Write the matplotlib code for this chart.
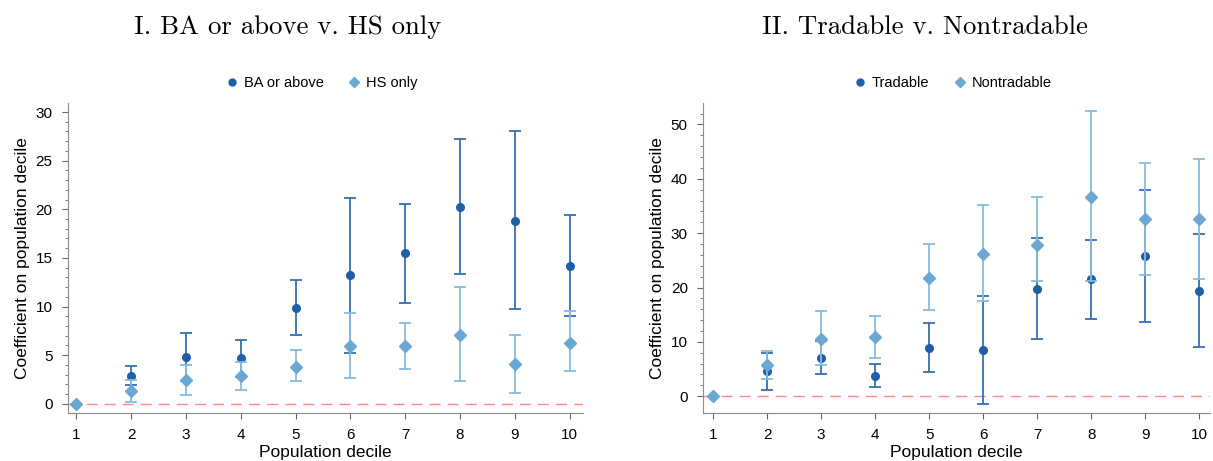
import numpy as np
import matplotlib
matplotlib.use("Agg")
import matplotlib.pyplot as plt
from matplotlib.lines import Line2D

plt.rcParams['font.family'] = ['Liberation Sans', 'DejaVu Sans']

deciles = np.arange(1, 11)

# panel I
ba_coef = [0, 2.9, 4.8, 4.7, 9.9, 13.2, 15.5, 20.2, 18.8, 14.2]
ba_lo = [0, 1.9, 2.3, 2.8, 7.1, 5.2, 10.4, 13.3, 9.7, 9.0]
ba_hi = [0, 3.9, 7.3, 6.6, 12.7, 21.2, 20.5, 27.2, 28.0, 19.4]
hs_coef = [0, 1.3, 2.4, 2.85, 3.8, 5.9, 5.9, 7.1, 4.1, 6.3]
hs_lo = [0, 0.2, 0.9, 1.4, 2.3, 2.7, 3.6, 2.3, 1.1, 3.4]
hs_hi = [0, 2.4, 4.0, 4.3, 5.5, 9.3, 8.3, 12.0, 7.1, 9.5]

# panel II
tr_coef = [0, 4.6, 7.1, 3.8, 8.9, 8.5, 19.75, 21.5, 25.8, 19.3]
tr_lo = [0, 1.1, 4.0, 1.7, 4.4, -1.5, 10.55, 14.2, 13.7, 9.0]
tr_hi = [0, 7.9, 10.2, 5.9, 13.4, 18.4, 29.2, 28.7, 38.0, 29.8]
nt_coef = [0, 5.8, 10.6, 10.9, 21.8, 26.2, 27.8, 36.7, 32.6, 32.6]
nt_lo = [0, 3.2, 5.7, 7.1, 15.8, 17.5, 21.2, 21.2, 22.3, 21.6]
nt_hi = [0, 8.3, 15.6, 14.8, 28.0, 35.1, 36.7, 52.4, 43.0, 43.6]

dark = "#1f5ea8"
dark_err = "#3470b3"
light = "#6aa8d3"
light_err = "#86bbe0"


def panel(ax, c1, lo1, hi1, lab1, c2, lo2, hi2, lab2, ylim, major, minor):
    c1, lo1, hi1 = map(np.array, (c1, lo1, hi1))
    c2, lo2, hi2 = map(np.array, (c2, lo2, hi2))
    ax.axhline(0, color="#ff8a8a", lw=1, ls=(0, (8, 5)), zorder=1)
    ax.errorbar(deciles, c1, yerr=[c1 - lo1, hi1 - c1], fmt="o", color=dark,
                ecolor=dark_err, ms=5.5, capsize=4, elinewidth=1.3, capthick=1.3,
                zorder=3)
    ax.errorbar(deciles, c2, yerr=[c2 - lo2, hi2 - c2], fmt="D", color=light,
                ecolor=light_err, ms=6.5, capsize=4, elinewidth=1.3, capthick=1.3,
                zorder=4)
    ax.set_ylim(*ylim)
    ax.set_yticks(np.arange(0, ylim[1], major))
    ax.set_yticks(np.arange(0, ylim[1], minor), minor=True)
    ax.set_xticks(deciles)
    for s in ("top", "right"):
        ax.spines[s].set_visible(False)
    for s in ("left", "bottom"):
        ax.spines[s].set_color("#8c8c8c")
    ax.tick_params(axis="both", which="major", labelsize=11, color="#666666",
                   length=4, pad=7)
    ax.tick_params(axis="y", which="minor", color="#666666", length=2.5)
    ax.set_xlabel("Population decile", fontsize=12.5, labelpad=2)
    ax.set_ylabel("Coefficient on population decile", fontsize=12.5)
    handles = [Line2D([], [], ls="none", marker="o", color=dark, ms=5),
               Line2D([], [], ls="none", marker="D", color=light, ms=5)]
    ax.legend(handles, [lab1, lab2], loc="center", bbox_to_anchor=(0.49, 1.065),
              ncol=2, frameon=False, fontsize=10.5, handletextpad=0.2,
              columnspacing=1.5, handlelength=1.2)


fig = plt.figure(figsize=(12.13, 4.61), dpi=100)
ax1 = fig.add_axes([0.056, 0.104, 0.4246, 0.672])
ax2 = fig.add_axes([0.5796, 0.104, 0.418, 0.672])

panel(ax1, ba_coef, ba_lo, ba_hi, "BA or above", hs_coef, hs_lo, hs_hi, "HS only",
      (-0.95, 30.9), 5, 1)
ax1.set_xlim(0.85, 10.24)
panel(ax2, tr_coef, tr_lo, tr_hi, "Tradable", nt_coef, nt_lo, nt_hi, "Nontradable",
      (-3.1, 53.9), 10, 2)
ax2.set_xlim(0.815, 10.2)

fig.text(288 / 1213, 1 - 27 / 461, "I. BA or above v. HS only", family="cmr10",
         fontsize=19.3, ha="center", va="center")
fig.text(925 / 1213, 1 - 27 / 461, "II. Tradable v. Nontradable", family="cmr10",
         fontsize=19.3, ha="center", va="center")

fig.savefig("out.png", dpi=100)
